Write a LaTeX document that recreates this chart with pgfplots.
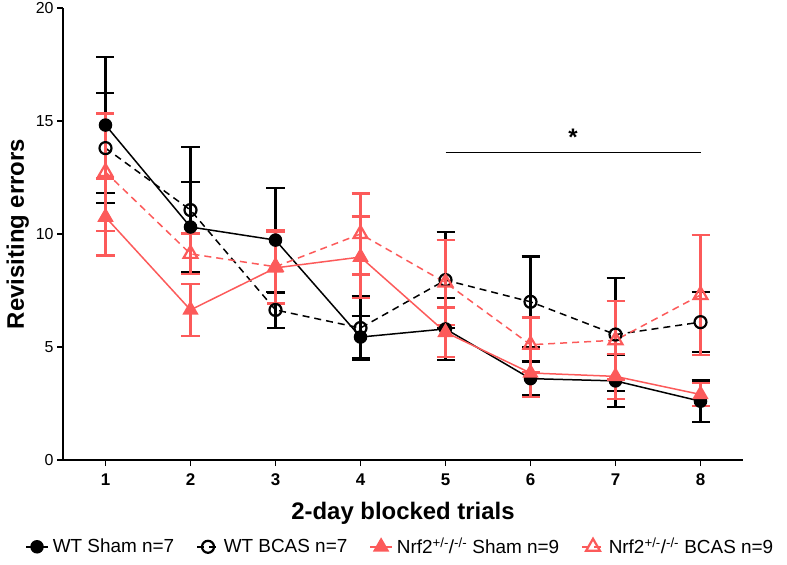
\documentclass[border=0pt]{standalone}
\usepackage{pgfplots}
\pgfplotsset{compat=1.18}
\usepackage{fontspec}
\setmainfont{Liberation Sans}
\definecolor{myred}{RGB}{252,90,90}

\pgfplotstableread{
x y e
1 14.82 3.0
2 10.31 2.0
3 9.73 2.31
4 5.44 0.93
5 5.80 1.37
6 3.60 0.75
7 3.50 1.15
8 2.60 0.92
}\wtsham
\pgfplotstableread{
x y e
1 13.80 2.44
2 11.06 2.80
3 6.64 0.80
4 5.84 1.42
5 7.96 2.13
6 7.00 2.00
7 5.55 2.50
8 6.10 1.33
}\wtbcas
\pgfplotstableread{
x y e
1 10.75 1.70
2 6.64 1.15
3 8.50 1.60
4 8.98 1.80
5 5.65 1.10
6 3.85 1.05
7 3.70 1.00
8 2.90 0.50
}\nrfsham
\pgfplotstableread{
x y e
1 12.74 2.60
2 9.12 0.90
3 8.55 1.60
4 10.00 1.80
5 7.85 1.88
6 5.10 1.20
7 5.30 1.74
8 7.30 2.66
}\nrfbcas

\begin{document}
\begin{tikzpicture}
\begin{axis}[
  at={(63bp,105bp)}, anchor=south west,
  scale only axis, width=680bp, height=452bp,
  xmin=0.5, xmax=8.5, ymin=0, ymax=20,
  axis x line=bottom, axis y line=left,
  axis line style={line width=1.6bp, -},
  xtick={1,...,8}, ytick={0,5,10,15,20},
  tick align=outside, major tick length=6bp,
  tick style={line width=1.6bp, black},
  /pgf/number format/assume math mode=true,
  yticklabel style={font=\fontsize{16}{16}\selectfont},
  xticklabel style={font=\bfseries\fontsize{17}{17}\selectfont, yshift=-4bp},
  xlabel={2-day blocked trials},
  ylabel={Revisiting errors},
  xlabel style={font=\bfseries\fontsize{24}{24}\selectfont, yshift=-10bp},
  ylabel style={font=\bfseries\fontsize{24}{24}\selectfont},
  legend columns=4,
  legend style={draw=none, at={(0.496,-0.192)}, anchor=center,
    font=\fontsize{19}{19}\selectfont,
    /tikz/every even column/.append style={column sep=20bp},
    /tikz/every odd column/.append style={column sep=2bp}},
  legend image code/.code={\draw[mark repeat=2,mark phase=2] plot coordinates {(0bp,0bp)(11bp,0bp)(22bp,0bp)};},
  legend cell align=left,
  clip=false,
  error bars/y dir=both, error bars/y explicit,
  error bars/error bar style={line width=2.4bp, solid},
  error bars/error mark options={rotate=90, mark size=9bp, line width=2.4bp, solid},
]
\addplot[black, solid, line width=1.5bp, mark=*, mark size=6bp,
  mark options={solid, fill=black}]
  table[x=x, y=y, y error=e] {\wtsham};
\addlegendentry{WT Sham n=7}
\addplot[black, dashed, dash pattern=on 7bp off 5bp, line width=1.5bp, mark=o, mark size=6bp,
  mark options={solid, line width=2.2bp, fill=white}]
  table[x=x, y=y, y error=e] {\wtbcas};
\addlegendentry{WT BCAS n=7}
\addplot[myred, solid, line width=1.5bp, mark=triangle*, mark size=8bp,
  mark options={solid, fill=myred}]
  table[x=x, y=y, y error=e] {\nrfsham};
\addlegendentry{Nrf2\textsuperscript{+/-}/\textsuperscript{-/-} Sham n=9}
\addplot[myred, dashed, dash pattern=on 7bp off 5bp, line width=1.5bp, mark=triangle, mark size=8bp,
  mark options={solid, line width=2.2bp, fill=white}]
  table[x=x, y=y, y error=e] {\nrfbcas};
\addlegendentry{Nrf2\textsuperscript{+/-}/\textsuperscript{-/-} BCAS n=9}
\draw[line width=1.4bp] (axis cs:5,13.6) -- (axis cs:8,13.6);
\node[font=\bfseries\fontsize{24}{24}\selectfont] at (axis cs:6.5,14.3) {*};
\end{axis}
\pgfresetboundingbox
\path[use as bounding box] (0,0) rectangle (787bp,565bp);
\end{tikzpicture}
\end{document}
